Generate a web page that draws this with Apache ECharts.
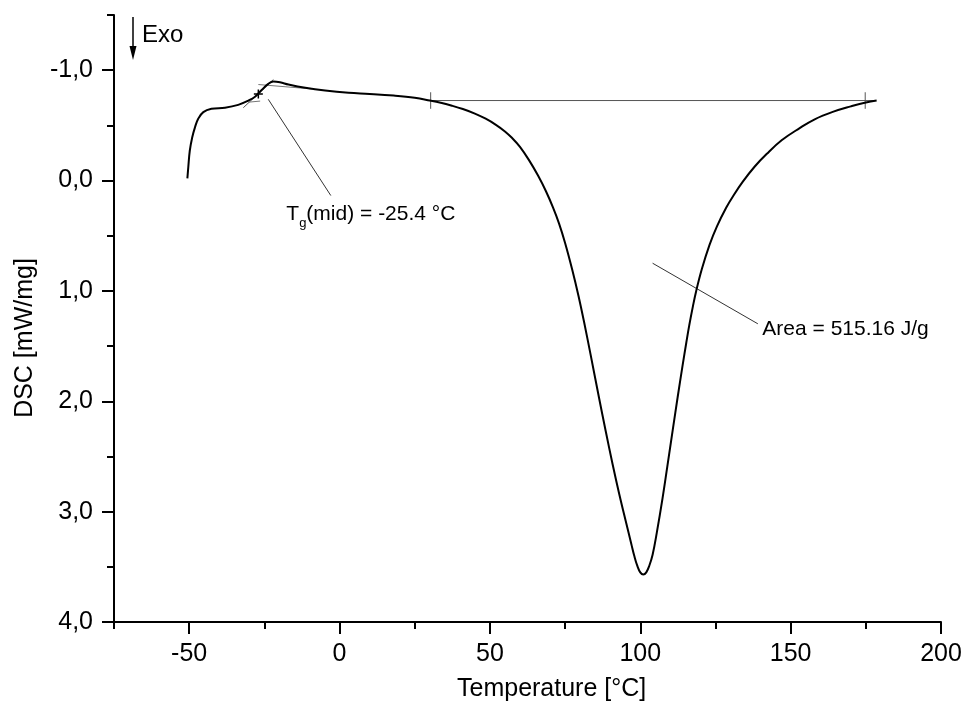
<!DOCTYPE html>
<html>
<head>
<meta charset="utf-8">
<script src="https://cdn.jsdelivr.net/npm/echarts@6/dist/echarts.min.js"></script>
<style>
html,body{margin:0;padding:0;background:#fff;}
#chart{width:965px;height:704px;}
</style>
</head>
<body>
<div id="chart"></div>
<script>
// DSC curve: temperature [°C] and DSC [mW/mg] (exo down, axis inverted)
const temperature = [-50.6,-50.3,-49.8,-49.0,-48.1,-47.0,-45.3,-42.6,-38.1,-33.7,-30.3,-28.1,-25.9,-23.7,-22.0,-19.8,-17.0,-11.4,-4.8,3.0,10.0,18.0,25.0,30.0,34.0,37.4,41.0,45.0,48.6,52.0,55.0,57.4,60.0,63.0,66.0,68.6,71.0,73.0,75.0,77.4,79.5,81.3,83.5,86.3,88.5,90.8,93.0,95.2,97.0,98.0,99.0,100.0,101.0,102.0,103.0,104.1,105.5,107.4,109.0,110.8,112.5,114.1,115.3,116.3,117.5,118.6,120.5,123.0,125.5,128.6,131.0,134.1,138.0,142.0,147.0,153.0,158.0,164.0,170.0,175.0,178.6];
const dsc = [-0.02,-0.12,-0.27,-0.39,-0.48,-0.56,-0.62,-0.65,-0.66,-0.686,-0.725,-0.76,-0.82,-0.876,-0.897,-0.89,-0.87,-0.84,-0.815,-0.795,-0.785,-0.77,-0.75,-0.725,-0.702,-0.678,-0.648,-0.607,-0.56,-0.505,-0.445,-0.385,-0.305,-0.185,-0.045,0.095,0.245,0.39,0.565,0.81,1.05,1.28,1.58,1.97,2.27,2.57,2.84,3.09,3.29,3.40,3.49,3.55,3.57,3.55,3.49,3.39,3.19,2.88,2.59,2.26,1.95,1.67,1.47,1.31,1.14,1.00,0.80,0.585,0.415,0.245,0.135,0.01,-0.125,-0.24,-0.365,-0.475,-0.555,-0.622,-0.672,-0.708,-0.725];

// Peak integration baseline and its limits
const baselineX = [29.0, 178.0];
const baselineY = [-0.725, -0.725];
const limitX = [30.3, 174.8];
const limitY = [-0.80, -0.65];

// Glass transition construction
const tangentUpperX = [-27.0, -9.2];
const tangentUpperY = [-0.87, -0.83];
const tangentInflX = [-32.0, -22.0];
const tangentInflY = [-0.66, -0.915];
const tangentLowerX = [-30.3, -26.4];
const tangentLowerY = [-0.71, -0.72];
const tgMidPoint = [-27.0, -0.785];

// Annotation pointers and texts
const tgPointerX = [-23.7, -2.9];
const tgPointerY = [-0.736, 0.136];
const areaPointerX = [104.1, 139.1];
const areaPointerY = [0.749, 1.298];
const tgLabelPos = [-17.7, 0.31];
const areaLabelPos = [140.6, 1.35];
const areaText = 'Area = 515.16 J/g';

// Axes
const xMajorTicks = [-50, 0, 50, 100, 150, 200];
const yMajorTicks = [-1, 0, 1, 2, 3, 4];
const xName = 'Temperature [°C]';
const yName = 'DSC [mW/mg]';

const FONT = '"Liberation Sans", Arial, sans-serif';
const zip = (xs, ys) => xs.map((x, i) => [x, ys[i]]);

function segSeries(xs, ys, color, width) {
  return {
    type: 'line', xAxisIndex: 0, yAxisIndex: 0,
    data: zip(xs, ys), showSymbol: false, silent: true,
    lineStyle: {color: color, width: width}, z: 3
  };
}

const chart = echarts.init(document.getElementById('chart'), null, {renderer: 'canvas'});

const option = {
  animation: false,
  backgroundColor: '#fff',
  grid: {left: 114, right: 24, top: 15, bottom: 82, containLabel: false},
  xAxis: [
    {
      type: 'value', min: -75, max: 200, position: 'bottom',
      axisLine: {show: true, onZero: false, lineStyle: {color: '#000', width: 2}},
      axisTick: {show: true, customValues: xMajorTicks, length: 12, lineStyle: {color: '#000', width: 2}},
      axisLabel: {show: true, customValues: xMajorTicks, margin: 20, color: '#000', fontSize: 25, fontFamily: FONT},
      splitLine: {show: false}
    },
    {
      type: 'value', min: -75, max: 200, interval: 25, position: 'bottom',
      axisLine: {show: false, onZero: false},
      axisTick: {show: true, length: 7, lineStyle: {color: '#000', width: 2}},
      axisLabel: {show: false},
      splitLine: {show: false}
    }
  ],
  yAxis: [
    {
      type: 'value', min: -1.5, max: 4, inverse: true, position: 'left',
      axisLine: {show: true, onZero: false, lineStyle: {color: '#000', width: 2}},
      axisTick: {show: true, customValues: yMajorTicks, length: 12, lineStyle: {color: '#000', width: 2}},
      axisLabel: {show: true, customValues: yMajorTicks, margin: 21, color: '#000', fontSize: 25, fontFamily: FONT,
        formatter: v => v.toFixed(1).replace('.', ',')},
      splitLine: {show: false}
    },
    {
      type: 'value', min: -1.5, max: 4, interval: 0.5, inverse: true, position: 'left',
      axisLine: {show: false, onZero: false},
      axisTick: {show: true, length: 7, lineStyle: {color: '#000', width: 2}},
      axisLabel: {show: false},
      splitLine: {show: false}
    }
  ],
  graphic: [
    {type: 'line', shape: {x1: 133, y1: 17, x2: 133, y2: 50}, style: {stroke: '#000', lineWidth: 1.5}},
    {type: 'polygon', shape: {points: [[129.5, 46], [136.5, 46], [133, 60]]}, style: {fill: '#000'}},
    {type: 'text', x: 142, y: 35, style: {text: 'Exo', font: '24px ' + FONT, fill: '#000', verticalAlign: 'middle', align: 'left'}},
    {type: 'text', x: 457, y: 689, style: {text: xName, font: '25px ' + FONT, fill: '#000', verticalAlign: 'middle', align: 'left'}},
    {type: 'text', x: 25, y: 338, rotation: Math.PI / 2, style: {text: yName, font: '25px ' + FONT, fill: '#000', verticalAlign: 'middle', align: 'center'}}
  ],
  series: [
    {
      type: 'line', name: 'DSC', xAxisIndex: 0, yAxisIndex: 0,
      data: zip(temperature, dsc), showSymbol: false, smooth: 0.4,
      lineStyle: {color: '#000', width: 2}, z: 5
    },
    segSeries(baselineX, baselineY, '#555', 1),
    segSeries([limitX[0], limitX[0]], limitY, '#555', 1),
    segSeries([limitX[1], limitX[1]], limitY, '#555', 1),
    segSeries(tangentUpperX, tangentUpperY, '#777', 1),
    segSeries(tangentInflX, tangentInflY, '#555', 1),
    segSeries(tangentLowerX, tangentLowerY, '#777', 1),
    segSeries(tgPointerX, tgPointerY, '#333', 1),
    segSeries(areaPointerX, areaPointerY, '#333', 1),
    {
      type: 'scatter', xAxisIndex: 0, yAxisIndex: 0, data: [tgMidPoint],
      symbol: 'path://M0,5L10,5M5,0L5,10', symbolSize: 9,
      itemStyle: {color: 'none', borderColor: '#000', borderWidth: 1.5, opacity: 1}, z: 6, silent: true
    },
    {
      type: 'scatter', xAxisIndex: 0, yAxisIndex: 0, data: [tgLabelPos], symbolSize: 0, silent: true,
      itemStyle: {opacity: 1},
      label: {
        show: true, position: 'right', distance: 0,
        formatter: '{t|T}{s|g}{t|(mid) = -25.4 °C}',
        rich: {
          t: {fontSize: 21, fontFamily: FONT, color: '#000', lineHeight: 22, verticalAlign: 'top'},
          s: {fontSize: 13, fontFamily: FONT, color: '#000', lineHeight: 13, padding: [13, 0, 0, 0], verticalAlign: 'top'}
        }
      }
    },
    {
      type: 'scatter', xAxisIndex: 0, yAxisIndex: 0, data: [areaLabelPos], symbolSize: 0, silent: true,
      itemStyle: {opacity: 1},
      label: {show: true, position: 'right', distance: 0, formatter: areaText, fontSize: 21, fontFamily: FONT, color: '#000'}
    }
  ]
};
chart.setOption(option);
</script>
</body>
</html>
